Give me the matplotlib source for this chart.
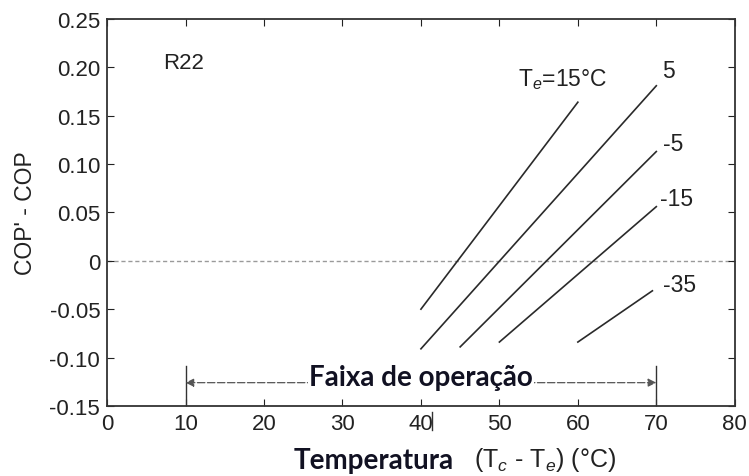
import matplotlib
matplotlib.use("Agg")
import matplotlib.pyplot as plt
from matplotlib.lines import Line2D

plt.rcParams['font.family'] = ['Liberation Sans', 'DejaVu Sans']
plt.rcParams['mathtext.fontset'] = 'custom'
plt.rcParams['mathtext.rm'] = 'Liberation Sans'
plt.rcParams['mathtext.it'] = 'Liberation Sans:italic'

# Evaporating temperature curves: COP' - COP versus lift (Tc - Te)
series_labels = ["T$_e$=15°C", "5", "-5", "-15", "-35"]
te15_x = [40, 60]
te15_y = [-0.050, 0.164]
te5_x = [40, 70]
te5_y = [-0.091, 0.181]
tem5_x = [45, 70]
tem5_y = [-0.089, 0.113]
tem15_x = [50, 70]
tem15_y = [-0.084, 0.056]
tem35_x = [60, 69.5]
tem35_y = [-0.084, -0.031]

# label anchor positions (data coords, text centre)
label_x = [58.1, 71.6, 72.1, 72.6, 72.9]
label_y = [0.188, 0.197, 0.121, 0.064, -0.024]

x_ticks = [0, 10, 20, 30, 40, 50, 60, 70, 80]
y_ticks = [-0.15, -0.10, -0.05, 0, 0.05, 0.10, 0.15, 0.20, 0.25]
y_tick_labels = ["-0.15", "-0.10", "-0.05", "0", "0.05", "0.10", "0.15", "0.20", "0.25"]

range_start, range_end = 10, 70
range_y = -0.126

fig = plt.figure(figsize=(7.49, 4.77), dpi=100)
ax = fig.add_axes([0.143, 0.147, 0.838, 0.811])

ax.set_xlim(0, 80)
ax.set_ylim(-0.15, 0.25)
ax.set_xticks(x_ticks)
ax.set_yticks(y_ticks)
ax.set_yticklabels(y_tick_labels)
ax.tick_params(direction='in', length=5, width=0.8, labelsize=16, colors='#222222',
               top=True, right=True, pad=5)
for s in ax.spines.values():
    s.set_linewidth(1.3)
    s.set_color('#333333')

# zero reference line
ax.axhline(0, color='#9a9a9a', lw=1.0, ls=(0, (3, 2)), zorder=1)

line_kw = dict(color='#2a2a2a', lw=1.2, zorder=3)
for xs, ys in [(te15_x, te15_y), (te5_x, te5_y), (tem5_x, tem5_y),
               (tem15_x, tem15_y), (tem35_x, tem35_y)]:
    ax.plot(xs, ys, **line_kw)

for lbl, lx, ly in zip(series_labels, label_x, label_y):
    ax.text(lx, ly, lbl, fontsize=16.5, ha='center', va='center', color='#222222')

ax.text(9.7, 0.205, "R22", fontsize=16, ha='center', va='center', color='#222222')

# operating range indicator
ax.annotate('', xy=(range_start, range_y), xytext=(range_end, range_y),
            arrowprops=dict(arrowstyle='<|-|>', color='#555555', lw=0.9,
                            ls=(0, (6, 2)), mutation_scale=12, shrinkA=0, shrinkB=0))
for xb in (range_start, range_end):
    ax.plot([xb, xb], [-0.15, -0.109], color='#333333', lw=1.0)
ax.text(40, -0.120, "Faixa de operação", fontsize=20, fontweight='bold',
        family=['Lato', 'DejaVu Sans'], ha='center', va='center', color='#111122',
        bbox=dict(facecolor='white', edgecolor='none', pad=1), zorder=5)

ax.set_ylabel("COP' - COP", fontsize=16.5, color='#222222')
ax.yaxis.set_label_coords(-0.112, 0.5)

fig.text(0.499, 0.034, "Temperatura", fontsize=20, fontweight='bold',
         family=['Lato', 'DejaVu Sans'], ha='center', va='center', color='#111122')
fig.text(0.728, 0.036, "(T$_c$ - T$_e$) (°C)", fontsize=18, ha='center', va='center',
         color='#222222')

# small vertical stroke beside the 40 tick label
fig.add_artist(Line2D([0.577, 0.577], [0.096, 0.134], color='#333333', lw=1.0))

fig.savefig("out.png", dpi=100)
